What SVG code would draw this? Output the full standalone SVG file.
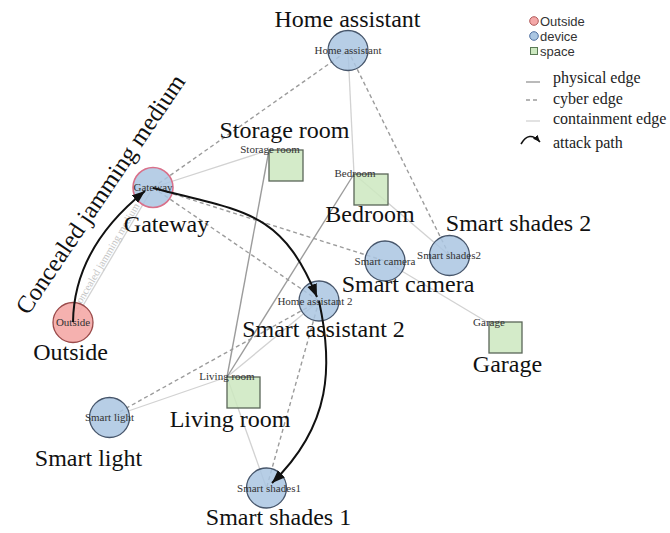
<svg xmlns="http://www.w3.org/2000/svg" width="670" height="533" viewBox="0 0 670 533">
<style>
.bg{fill:#ffffff}
.dev{fill:#aac6e2;fill-opacity:0.85;stroke:#47566b;stroke-width:1.3}
.out{fill:#f4a8a6;fill-opacity:0.9;stroke:#9a4a4a;stroke-width:1.3}
.sp{fill:#cce8c0;fill-opacity:0.85;stroke:#5a6658;stroke-width:1.3}
.gw{stroke:#d9708a;stroke-width:1.6}
.phys{stroke:#9c9c9c;stroke-width:1.4;fill:none}
.cyb{stroke:#9c9c9c;stroke-width:1.4;stroke-dasharray:4 3;fill:none}
.cont{stroke:#d2d2d2;stroke-width:1.3;fill:none}
.atk{stroke:#111;stroke-width:2;fill:none}
.big{font-family:"Liberation Serif","Times New Roman",serif;font-size:24px;fill:#111;text-anchor:middle}
.sm{font-family:"Liberation Serif","Times New Roman",serif;font-size:11px;fill:#333;text-anchor:middle}
.lg{font-family:"Liberation Sans",Arial,sans-serif;font-size:13px;fill:#333}
.lgs{font-family:"Liberation Serif","Times New Roman",serif;font-size:16px;fill:#222}
</style>
<defs>
<marker id="ah" markerUnits="userSpaceOnUse" markerWidth="14" markerHeight="12" refX="13" refY="5" orient="auto">
<path d="M0,0 L13,5 L0,10 z" fill="#111"/>
</marker>
<marker id="ahs" markerUnits="userSpaceOnUse" markerWidth="8" markerHeight="8" refX="7" refY="3" orient="auto">
<path d="M0,0 L7,3 L0,6 z" fill="#111"/>
</marker>
</defs>
<rect class="bg" x="0" y="0" width="670" height="533"/>

<g id="connectors">
<line class="cont" x1="153" y1="187.5" x2="269" y2="150"/>
<line class="cont" x1="348" y1="50.5" x2="354" y2="174"/>
<line class="cont" x1="354" y1="174" x2="449.5" y2="255.5"/>
<line class="cont" x1="385" y1="261" x2="487" y2="322"/>
<line class="cont" x1="227" y1="377" x2="109.5" y2="417.5"/>
<line class="cont" x1="227" y1="377" x2="319" y2="301"/>
<line class="cont" x1="227" y1="377" x2="266.5" y2="488"/>
<path id="jam" class="cont" d="M73,322.5 L153,187.5"/>
<text font-family="Liberation Serif, Times New Roman, serif" font-size="10.5" fill="#c4c4c4" text-anchor="middle" dy="-2"><textPath href="#jam" startOffset="47%">Concealed jamming medium</textPath></text>
<line class="phys" x1="269" y1="150" x2="227" y2="377"/>
<line class="phys" x1="354" y1="174" x2="227" y2="377"/>
<line class="cyb" x1="153" y1="187.5" x2="348" y2="50.5"/>
<line class="cyb" x1="153" y1="187.5" x2="385" y2="261"/>
<line class="cyb" x1="153" y1="187.5" x2="319" y2="301"/>
<line class="cyb" x1="348" y1="50.5" x2="449.5" y2="255.5"/>
<line class="cyb" x1="319" y1="301" x2="109.5" y2="417.5"/>
<line class="cyb" x1="319" y1="301" x2="266.5" y2="488"/>
</g>

<g id="node-home-assistant"><circle class="dev" cx="348" cy="50.5" r="20"/><text class="sm" x="348" y="54">Home assistant</text><text class="big" x="347.5" y="27">Home assistant</text></g>
<g id="node-storage-room"><rect class="sp" x="269" y="150" width="34" height="31"/><text class="sm" x="270" y="153">Storage room</text><text class="big" x="284.5" y="138">Storage room</text></g>
<g id="node-gateway"><circle class="dev gw" cx="153" cy="187.5" r="20"/><text class="sm" x="153" y="191">Gateway</text><text class="big" x="166.5" y="232">Gateway</text></g>
<g id="node-bedroom"><rect class="sp" x="354" y="174" width="34" height="31"/><text class="sm" x="355" y="177">Bedroom</text><text class="big" x="370" y="222">Bedroom</text></g>
<g id="node-smart-shades-2"><circle class="dev" cx="449.5" cy="255.5" r="20"/><text class="sm" x="449" y="259">Smart shades2</text><text class="big" x="518.5" y="231">Smart shades 2</text></g>
<g id="node-smart-camera"><circle class="dev" cx="385" cy="261" r="20"/><text class="sm" x="385" y="264.5">Smart camera</text><text class="big" x="408" y="292">Smart camera</text></g>
<g id="node-home-assistant-2"><circle class="dev" cx="319" cy="301" r="20"/><text class="sm" x="315" y="305">Home assistant 2</text><text class="big" x="323.5" y="337">Smart assistant 2</text></g>
<g id="node-outside"><circle class="out" cx="73" cy="322.5" r="20"/><text class="sm" x="73" y="326" fill="#5a2a2a">Outside</text><text class="big" x="70.5" y="360">Outside</text></g>
<g id="node-garage"><rect class="sp" x="489" y="322" width="33" height="31"/><text class="sm" x="489" y="326">Garage</text><text class="big" x="507.5" y="372">Garage</text></g>
<g id="node-living-room"><rect class="sp" x="227" y="377" width="33" height="31"/><text class="sm" x="227" y="380">Living room</text><text class="big" x="230" y="427">Living room</text></g>
<g id="node-smart-light"><circle class="dev" cx="109.5" cy="417.5" r="20"/><text class="sm" x="109.5" y="421">Smart light</text><text class="big" x="88.5" y="466">Smart light</text></g>
<g id="node-smart-shades-1"><circle class="dev" cx="266.5" cy="488" r="20"/><text class="sm" x="269" y="491.5">Smart shades1</text><text class="big" x="278.5" y="525">Smart shades 1</text></g>

<g id="attack-path">
<path class="atk" d="M73,322 Q74,248 145,191" marker-end="url(#ah)"/>
<path class="atk" d="M153,188 C245,212 281,210 317,297" marker-end="url(#ah)"/>
<path class="atk" d="M319,301 C333,365 332,425 272,483" marker-end="url(#ah)"/>
</g>

<text transform="translate(28,316) rotate(-56)" font-family="Liberation Serif, Times New Roman, serif" font-size="24.5" fill="#111">Concealed jamming medium</text>

<g id="legend">
<circle cx="534" cy="21" r="4.3" fill="#f4a8a8" stroke="#b05a5a" stroke-width="1"/>
<text class="lg" x="540" y="25.5">Outside</text>
<circle cx="534" cy="36" r="4.3" fill="#aac6e2" stroke="#5070a0" stroke-width="1"/>
<text class="lg" x="540" y="40.5">device</text>
<rect x="530.5" y="47.5" width="7" height="7" fill="#cce8c0" stroke="#5a7a55" stroke-width="1"/>
<text class="lg" x="540" y="55.5">space</text>
<line class="phys" x1="526" y1="82" x2="540" y2="82"/>
<text class="lgs" x="553" y="83">physical edge</text>
<line class="cyb" x1="526" y1="100" x2="540" y2="100" stroke-dasharray="2 2.5"/>
<text class="lgs" x="553" y="104">cyber edge</text>
<line class="cont" x1="526" y1="121" x2="540" y2="121"/>
<text class="lgs" x="553" y="124">containment edge</text>
<path d="M521,144 Q529,130 540,142" stroke="#111" stroke-width="1.6" fill="none" marker-end="url(#ahs)"/>
<text class="lgs" x="553" y="148">attack path</text>
</g>
</svg>
